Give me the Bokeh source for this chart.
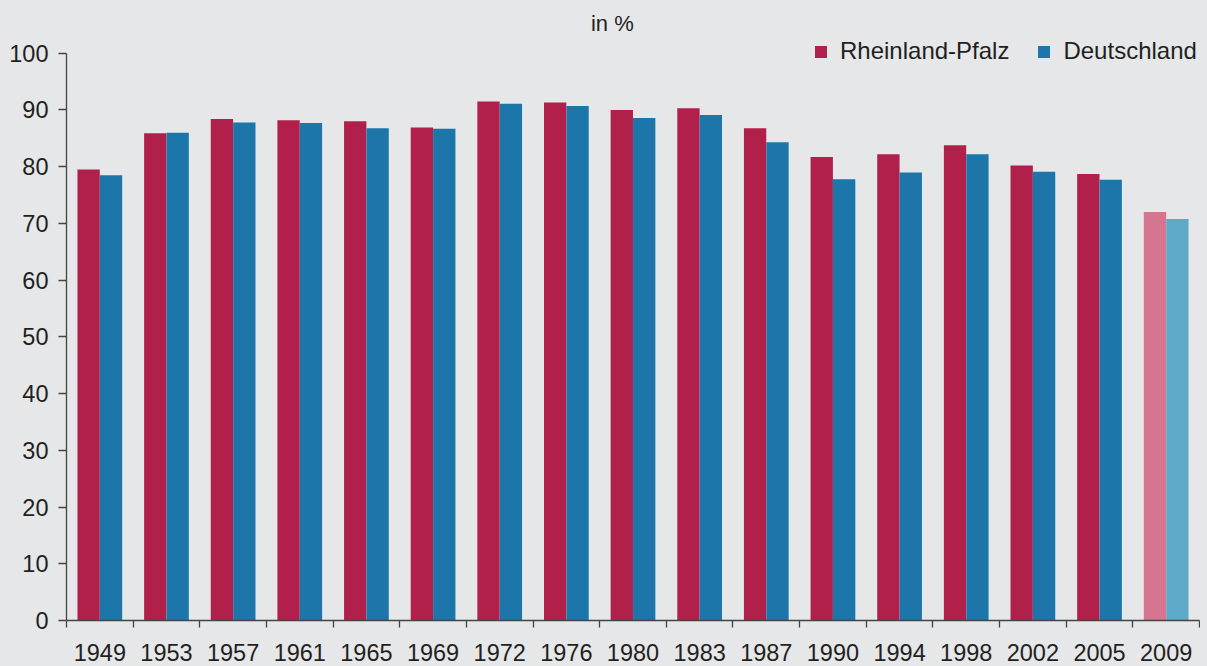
from bokeh.plotting import figure
from bokeh.models import ColumnDataSource, Range1d, FixedTicker, Label
from bokeh.embed import file_html
from bokeh.resources import INLINE

years = ["1949", "1953", "1957", "1961", "1965", "1969", "1972", "1976", "1980",
         "1983", "1987", "1990", "1994", "1998", "2002", "2005", "2009"]
rlp = [79.5, 85.9, 88.4, 88.2, 88.0, 86.9, 91.5, 91.3, 90.0, 90.3, 86.8, 81.7,
       82.2, 83.8, 80.2, 78.7, 72.0]
de = [78.5, 86.0, 87.8, 87.7, 86.8, 86.7, 91.1, 90.7, 88.6, 89.1, 84.3, 77.8,
      79.0, 82.2, 79.1, 77.7, 70.8]

BG = "#e6e7e9"
RED, RED_L = "#b1204a", "#d5758f"
BLUE, BLUE_L = "#1c76a9", "#5ea9c8"
FONT = "Liberation Sans"
TXT = "#231f20"

n = len(years)
centers = [i + 0.5 for i in range(n)]
src = ColumnDataSource(dict(
    xr=[c - 0.168 for c in centers],
    xd=[c + 0.168 for c in centers],
    rlp=rlp, de=de,
    cr=[RED if i < n - 1 else RED_L for i in range(n)],
    cd=[BLUE if i < n - 1 else BLUE_L for i in range(n)],
))

p = figure(width=1200, height=666, output_backend="svg", toolbar_location=None,
           x_range=Range1d(0, n), y_range=Range1d(0, 109.3),
           min_border_left=66, min_border_right=1, min_border_top=0,
           min_border_bottom=46)
p.background_fill_color = BG
p.border_fill_color = BG
p.outline_line_color = None
p.grid.visible = False

p.vbar(x="xr", top="rlp", width=0.335, source=src, fill_color="cr",
       line_color=None, legend_label="Rheinland-Pfalz")
p.vbar(x="xd", top="de", width=0.335, source=src, fill_color="cd",
       line_color=None, legend_label="Deutschland")

# y axis
ya = p.yaxis[0]
ya.ticker = FixedTicker(ticks=list(range(0, 101, 10)))
ya.bounds = (0, 100)
ya.axis_line_color = "#444444"
ya.axis_line_width = 1.3
ya.major_tick_line_color = "#444444"
ya.major_tick_line_width = 1.3
ya.major_tick_out = 8
ya.major_tick_in = 0
ya.minor_tick_line_color = None
ya.major_label_standoff = 10
ya.major_label_text_font = FONT
ya.major_label_text_font_size = "23.5px"
ya.major_label_text_color = TXT

# x axis
xa = p.xaxis[0]
xa.ticker = FixedTicker(ticks=centers, minor_ticks=list(range(0, n + 1)))
xa.major_label_overrides = {c: y for c, y in zip(centers, years)}
xa.axis_line_color = "#444444"
xa.axis_line_width = 1.3
xa.major_tick_line_color = None
xa.major_tick_out = 0
xa.major_tick_in = 0
xa.minor_tick_line_color = "#444444"
xa.minor_tick_line_width = 1.3
xa.minor_tick_out = 7
xa.minor_tick_in = 0
xa.major_label_standoff = 16
xa.major_label_text_font = FONT
xa.major_label_text_font_size = "23.5px"
xa.major_label_text_color = TXT

# unit label
p.add_layout(Label(x=8.19, y=105.3, text="in %", text_align="center",
                   text_baseline="middle", text_font=FONT,
                   text_font_size="22px", text_color=TXT))

lg = p.legend[0]
lg.orientation = "horizontal"
lg.location = (747, 555)
lg.padding = 0
lg.margin = 0
lg.spacing = 27
lg.glyph_width = 15
lg.glyph_height = 15
lg.label_standoff = 12
lg.label_text_font = FONT
lg.label_text_font_size = "24px"
lg.label_text_color = TXT
lg.background_fill_alpha = 0
lg.border_line_alpha = 0

html = file_html(p, INLINE)
html = html.replace("<head>", "<head><style>body{background:%s;}</style>" % BG, 1)
open("out.html", "w").write(html)
